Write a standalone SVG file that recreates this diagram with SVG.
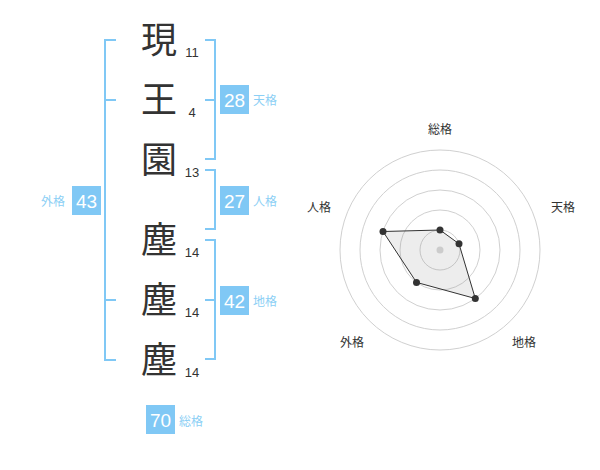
<svg xmlns="http://www.w3.org/2000/svg" width="600" height="470" viewBox="0 0 600 470">
<style>
.kanji{font-family:"Noto Sans CJK JP","Noto Sans CJK SC",sans-serif;font-size:36px;fill:#333;text-anchor:middle}
.num{font-family:"Liberation Sans",Arial,sans-serif;font-size:13px;fill:#333;text-anchor:middle}
.br{fill:none;stroke:#80c8f5;stroke-width:2}
.box{fill:#80c8f5}
.bnum{font-family:"Liberation Sans",Arial,sans-serif;font-size:19px;fill:#fff;text-anchor:middle}
.lab{font-family:"Noto Sans CJK JP","Noto Sans CJK SC",sans-serif;font-size:12px;fill:#8ccff5}
.ring{fill:none;stroke:#d0d0d0;stroke-width:1}
.axl{font-family:"Noto Sans CJK JP","Noto Sans CJK SC",sans-serif;font-size:12px;fill:#333;text-anchor:middle}
.pt{fill:#333}
</style>
<rect width="600" height="470" fill="#fff"/>
<g id="chars">
<g id="c1"><text class="kanji" x="159" y="53">現</text><text class="num" x="192" y="57">11</text></g>
<g id="c2"><text class="kanji" x="159" y="113">王</text><text class="num" x="192" y="117">4</text></g>
<g id="c3"><text class="kanji" x="159" y="173">園</text><text class="num" x="192" y="177">13</text></g>
<g id="c4"><text class="kanji" x="159" y="253">塵</text><text class="num" x="192" y="257">14</text></g>
<g id="c5"><text class="kanji" x="159" y="313">塵</text><text class="num" x="192" y="317">14</text></g>
<g id="c6"><text class="kanji" x="159" y="373">塵</text><text class="num" x="192" y="377">14</text></g>
</g>
<g id="connectors">
<path class="br" d="M116 40H105V360H116M105 100H116M105 300H116"/>
<path class="br" d="M205 40H215V159H205M205 100H215"/>
<path class="br" d="M205 170H215V229H205"/>
<path class="br" d="M205 240H215V359H205M205 300H215"/>
</g>
<g id="tenkaku"><rect class="box" x="220" y="85" width="29" height="29"/><text class="bnum" x="234.5" y="106.5">28</text><text class="lab" x="253" y="105">天格</text></g>
<g id="jinkaku"><rect class="box" x="220" y="186" width="29" height="29"/><text class="bnum" x="234.5" y="207.5">27</text><text class="lab" x="253" y="206">人格</text></g>
<g id="chikaku"><rect class="box" x="220" y="286" width="29" height="29"/><text class="bnum" x="234.5" y="307.5">42</text><text class="lab" x="253" y="306">地格</text></g>
<g id="gaikaku"><rect class="box" x="72" y="186" width="29" height="29"/><text class="bnum" x="86.5" y="207.5">43</text><text class="lab" x="41" y="206">外格</text></g>
<g id="soukaku"><rect class="box" x="146" y="405" width="29" height="29"/><text class="bnum" x="160.5" y="426.5">70</text><text class="lab" x="179" y="426">総格</text></g>
<g id="radar">
<circle class="ring" cx="440" cy="250" r="20"/>
<circle class="ring" cx="440" cy="250" r="40"/>
<circle class="ring" cx="440" cy="250" r="60"/>
<circle class="ring" cx="440" cy="250" r="80"/>
<circle class="ring" cx="440" cy="250" r="100"/>
<polygon points="440,230 459,243.8 475.3,298.5 416.5,282.4 383,231.5" fill="#888" fill-opacity="0.15" stroke="#333" stroke-width="1"/>
<circle cx="440" cy="250" r="3.5" fill="#ccc"/>
<circle class="pt" cx="440" cy="230" r="3.5"/>
<circle class="pt" cx="459" cy="243.8" r="3.5"/>
<circle class="pt" cx="475.3" cy="298.5" r="3.5"/>
<circle class="pt" cx="416.5" cy="282.4" r="3.5"/>
<circle class="pt" cx="383" cy="231.5" r="3.5"/>
<text class="axl" x="440" y="134">総格</text>
<text class="axl" x="563" y="212">天格</text>
<text class="axl" x="319" y="212">人格</text>
<text class="axl" x="352" y="347">外格</text>
<text class="axl" x="524" y="347">地格</text>
</g>
</svg>
